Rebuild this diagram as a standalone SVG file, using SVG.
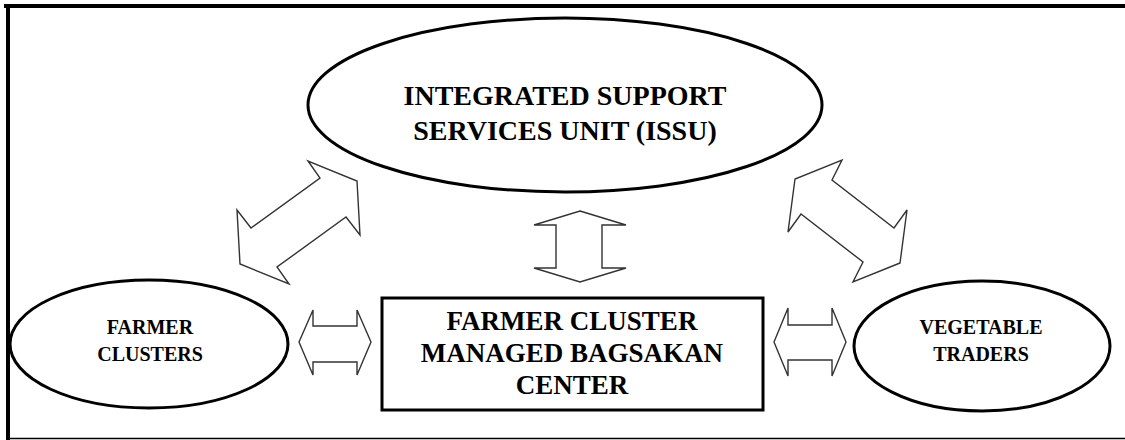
<svg xmlns="http://www.w3.org/2000/svg" width="1125" height="440" viewBox="0 0 1125 440">
<style>
.node{fill:#fff;stroke:#000;stroke-width:3}
.arrow{fill:#fff;stroke:#333;stroke-width:1.4;stroke-linejoin:miter}
text{font-family:"Liberation Serif","Times New Roman",serif;font-weight:bold;fill:#000;text-anchor:middle}
.big{font-size:27px}
.top{font-size:28px}
.small{font-size:20px}
</style>
<rect width="1125" height="440" fill="#fff"/>
<g id="frame">
<line x1="4" y1="6" x2="1125" y2="6" stroke="#000" stroke-width="4"/>
<line x1="8" y1="4" x2="8" y2="440" stroke="#000" stroke-width="4"/>
<line x1="8" y1="438.5" x2="1125" y2="438.5" stroke="#000" stroke-width="1.5"/>
</g>
<g id="connectors">
<polygon class="arrow" points="240,264 237,210 251,228 320,178 308,161 357,181 360,235 346,217 277,267 289,284"/>
<polygon class="arrow" points="900,263 853,282 863,262 801,214 788,232 795,179 842,160 832,180 894,228 907,210"/>
<polygon class="arrow" points="580,211 626,225 602,225 602,268 626,268 580,282 534,268 556,268 556,225 534,225"/>
<polygon class="arrow" points="299,342 313,310 313,326 357,326 357,310 371,342 357,375 357,362 313,362 313,375"/>
<polygon class="arrow" points="774,342 788,308 788,325 832,325 832,308 846,342 832,376 832,360 788,360 788,376"/>
</g>
<g id="issu">
<ellipse class="node" cx="565" cy="105" rx="257" ry="87"/>
<text class="top" x="565" y="105">INTEGRATED SUPPORT</text>
<text class="top" x="565" y="140">SERVICES UNIT (ISSU)</text>
</g>
<g id="farmer-clusters">
<ellipse class="node" cx="149" cy="344" rx="139" ry="64"/>
<text class="small" x="150" y="334">FARMER</text>
<text class="small" x="150" y="361">CLUSTERS</text>
</g>
<g id="bagsakan">
<rect class="node" x="382" y="298" width="381" height="112"/>
<text class="big" x="572" y="330">FARMER CLUSTER</text>
<text class="big" x="572" y="362">MANAGED BAGSAKAN</text>
<text class="big" x="572" y="394">CENTER</text>
</g>
<g id="vegetable-traders">
<ellipse class="node" cx="982" cy="346" rx="128" ry="65"/>
<text class="small" x="981" y="334">VEGETABLE</text>
<text class="small" x="981" y="361">TRADERS</text>
</g>
</svg>
